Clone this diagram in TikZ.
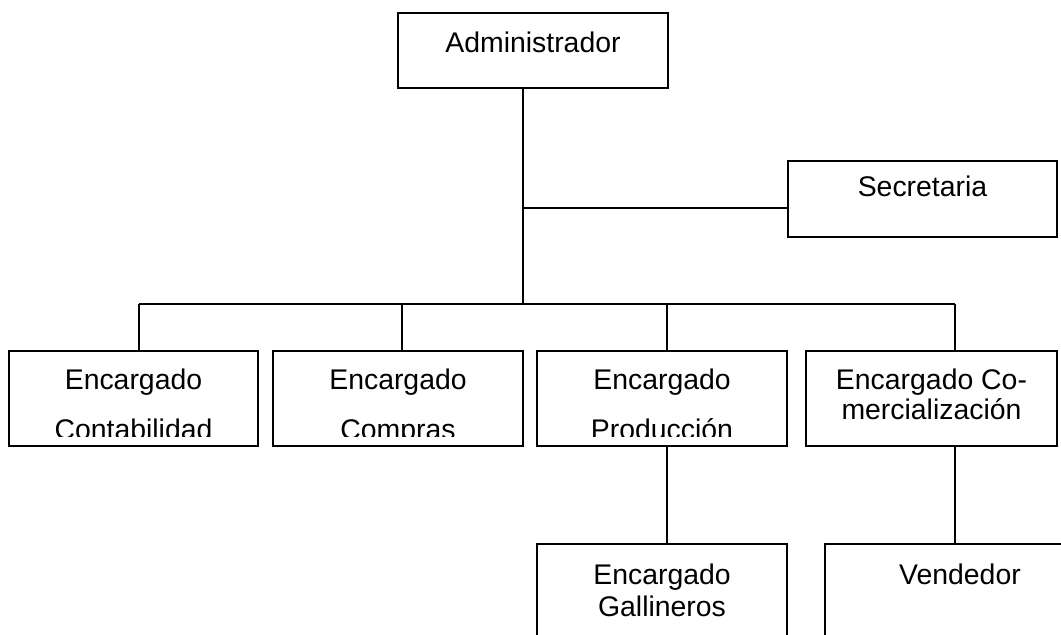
\documentclass[tikz,border=0pt]{standalone}
\usepackage{fontspec}
\setmainfont{Liberation Sans}
\usetikzlibrary{positioning,calc}

\begin{document}
\begin{tikzpicture}[x=0.5pt, y=-0.5pt,
  caja/.style={draw, line width=1pt, inner sep=0pt},
  texto/.style={inner sep=0pt, align=center, font=\fontsize{14.2}{16}\selectfont},
  doble/.style={texto, font=\fontsize{14.2}{25}\selectfont},
  linea/.style={line width=1pt}]

%─────────────
% Page frame (pixel units, y downwards)
%─────────────
\useasboundingbox (0,0) rectangle (1061,635);
\clip (0,0) rectangle (1061,635);

%─────────────
% Boxes
%─────────────
\node[caja, minimum width=135pt, minimum height=37.5pt] (admin) at (533,50.5) {};
\node[caja, minimum width=134.5pt, minimum height=38pt] (secre) at (922.5,199) {};

\node[caja, minimum width=124.5pt, minimum height=47.5pt] (conta) at (133.5,398.5) {};
\node[caja, minimum width=125pt, minimum height=47.5pt] (compras) at (398,398.5) {};
\node[caja, minimum width=125pt, minimum height=47.5pt] (produc) at (662,398.5) {};
\node[caja, minimum width=125.5pt, minimum height=47.5pt] (comer) at (931.5,398.5) {};

\node[caja, minimum width=125pt, minimum height=60pt] (galli) at (662,604) {};
\node[caja, minimum width=135pt, minimum height=60pt] (vende) at (960,604) {};

%─────────────
% Texts
%─────────────
\node[texto, below=9.7pt of admin.north] (admint) {Administrador};
\node[texto, below=7.8pt of secre.north] (secret) {Secretaria};
\node[texto, below=9.3pt of comer.north, font=\fontsize{14.2}{15}\selectfont] (comert) {Encargado Co-\\mercialización};
\node[texto, below=10.3pt of galli.north] (gallit) {Encargado\\Gallineros};
\node[texto, below=10.3pt of vende.north] (vendet) {Vendedor};

% second line runs past the inner margin and is cut
\foreach \b/\t in {conta/Contabilidad, compras/Compras, produc/Producción} {
  \begin{scope}
    \clip (\b.north west) rectangle ($(\b.south east)+(0,-10)$);
    \node[doble, below=9.3pt of \b.north] (\b t) {Encargado\\\t};
  \end{scope}
}

%─────────────
% Connectors
%─────────────
\coordinate (tronco) at (523,304);
\coordinate (ramal) at (523,208);
\coordinate (b1) at (139,304);
\coordinate (b2) at (402,304);
\coordinate (b3) at (667,304);
\coordinate (b4) at (955,304);

\draw[linea] (admin.south -| tronco) -- (tronco);
\draw[line width=0.7pt] (ramal) -- (ramal -| secre.west);
\draw[linea] (b1) -- (b4);
\foreach \p/\b in {b1/conta, b2/compras, b3/produc, b4/comer} {
  \draw[linea] (\p) -- (\p |- \b.north);
}
\draw[linea] (produc.south -| b3) -- (galli.north -| b3);
\draw[linea] (comer.south -| b4) -- (vende.north -| b4);

\end{tikzpicture}
\end{document}
